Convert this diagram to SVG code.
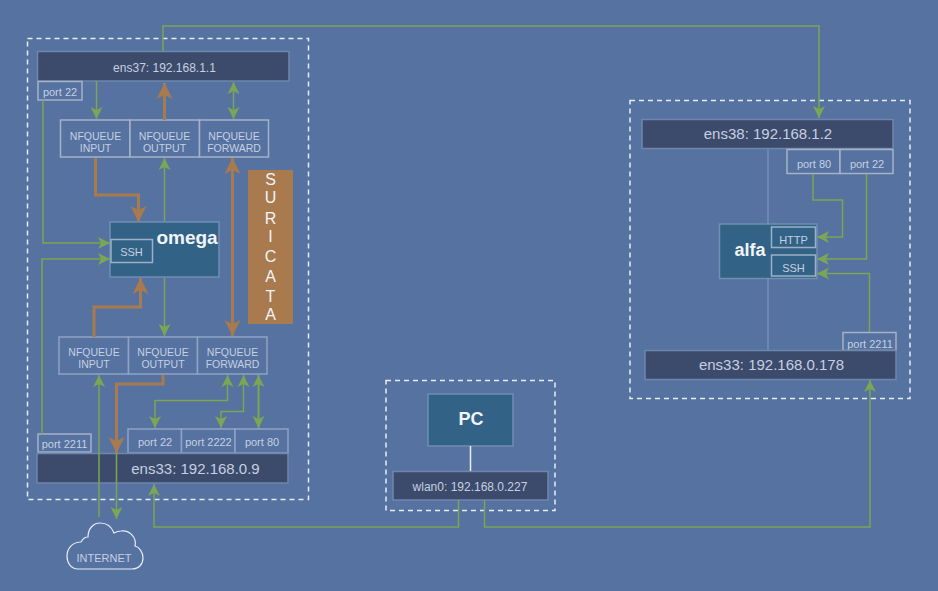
<svg xmlns="http://www.w3.org/2000/svg" width="938" height="591" viewBox="0 0 938 591">
<style>
text{font-family:"Liberation Sans",Arial,sans-serif;text-anchor:middle;fill:#c6d0e0}
.dash{fill:none;stroke:#e8edf5;stroke-width:1.5;stroke-dasharray:5 4}
.bar{fill:#3c4b6c;stroke:#6f86ab;stroke-width:1.5}
.cell{fill:#5572a1;stroke:#a6b2c6;stroke-width:1.5}
.cellb{fill:#5572a1;stroke:#8fa3c2;stroke-width:1.5}
.host{fill:#336287;stroke:#6f8fb3;stroke-width:1.5}
.inner{fill:#336287;stroke:#9fb0c6;stroke-width:1.5}
.g{fill:none;stroke:#7aa655;stroke-width:1.5}
.gt{fill:none;stroke:#7aa655;stroke-width:2}
.b{fill:none;stroke:#a87a4e;stroke-width:3}
.l{fill:none;stroke:#7f95b8;stroke-width:1.2}
.t12{font-size:12px}.t11{font-size:11px}.q{font-size:10.5px}.t15{font-size:15px}
.big{font-weight:bold;font-size:18px;fill:#f1f4f8}
.s{font-size:16px;fill:#f1f4f8}
</style>
<defs>
<marker id="ga" markerUnits="userSpaceOnUse" markerWidth="14" markerHeight="14" refX="12" refY="6" orient="auto-start-reverse" viewBox="0 0 14 12"><path d="M0 0L12 6L0 12L3 6Z" fill="#7aa655"/></marker>
<marker id="ba" markerUnits="userSpaceOnUse" markerWidth="18" markerHeight="18" refX="16" refY="8" orient="auto-start-reverse" viewBox="0 0 18 16"><path d="M0 0L16 8L0 16L4 8Z" fill="#a87a4e"/></marker>
</defs>
<rect width="938" height="591" fill="#5572a1"/>
<rect class="dash" x="27.5" y="38.5" width="281" height="461"/>
<rect class="dash" x="630" y="100.5" width="280" height="298"/>
<rect class="dash" x="386" y="380.5" width="169" height="130"/>
<g id="ens37"><rect class="bar" x="37.500" y="51.500" width="251.500" height="29.500"/><text class="t12" x="164.500" y="72">ens37: 192.168.1.1</text></g>
<g id="port22-omega-top"><rect class="cell" x="38" y="81.500" width="44" height="18.500"/><text class="t11" x="60" y="96">port 22</text></g>
<g id="nfq-top-input"><rect class="cell" x="60.500" y="120" width="69.500" height="37"/><text class="q" x="95.500" y="140">NFQUEUE</text><text class="q" x="95.500" y="152">INPUT</text></g>
<g id="nfq-top-output"><rect class="cell" x="130" y="120" width="69.500" height="37"/><text class="q" x="164.500" y="140">NFQUEUE</text><text class="q" x="164.500" y="152">OUTPUT</text></g>
<g id="nfq-top-forward"><rect class="cell" x="199.500" y="120" width="69" height="37"/><text class="q" x="234" y="140">NFQUEUE</text><text class="q" x="234" y="152">FORWARD</text></g>
<g id="suricata"><rect x="248" y="170" width="45" height="154" fill="#a87a4e"/>
<text class="s" x="270.500" y="185">S</text><text class="s" x="270.500" y="203">U</text><text class="s" x="270.500" y="224">R</text><text class="s" x="270.500" y="242">I</text><text class="s" x="270.500" y="262">C</text><text class="s" x="270.500" y="282">A</text><text class="s" x="270.500" y="302">T</text><text class="s" x="270.500" y="320">A</text></g>
<g id="omega"><rect class="host" x="110" y="222" width="109" height="55"/><text class="big" style="font-size:19px" x="187" y="244">omega</text><rect class="inner" x="111" y="239.500" width="41.500" height="23"/><text class="t11" x="131.500" y="256">SSH</text></g>
<g id="nfq-bottom-input"><rect class="cellb" x="59" y="337" width="69.500" height="37"/><text class="q" x="94" y="356">NFQUEUE</text><text class="q" x="94" y="368">INPUT</text></g>
<g id="nfq-bottom-output"><rect class="cellb" x="128.500" y="337" width="69" height="37"/><text class="q" x="163" y="356">NFQUEUE</text><text class="q" x="163" y="368">OUTPUT</text></g>
<g id="nfq-bottom-forward"><rect class="cellb" x="197.500" y="337" width="69.500" height="37"/><text class="q" x="232.500" y="356">NFQUEUE</text><text class="q" x="232.500" y="368">FORWARD</text></g>
<g id="port2211-omega"><rect class="cell" x="38" y="434" width="53" height="18"/><text class="t11" x="64.500" y="448">port 2211</text></g>
<g id="port22-omega"><rect class="cellb" x="128" y="429" width="53.500" height="24"/><text class="t11" x="155" y="446">port 22</text></g>
<g id="port2222-omega"><rect class="cellb" x="181.500" y="429" width="53.500" height="24"/><text class="t11" x="208.500" y="446">port 2222</text></g>
<g id="port80-omega"><rect class="cellb" x="235" y="429" width="53" height="24"/><text class="t11" x="262" y="446">port 80</text></g>
<g id="ens33-omega"><rect class="bar" x="37" y="453.500" width="251" height="29.500"/><text class="t15" x="195.500" y="474">ens33: 192.168.0.9</text></g>
<g id="internet"><path d="M78 569H132C139 569 143 564 143 558C143 552 139 547 135 546C137 538 130 530 121 531C118 531 116 532 114 533C111 525 105 523 100 523C93 523 88 529 88 537C84 537 82 540 81 542C72 542 67 549 67 556C67 563 71 569 78 569Z" fill="none" stroke="#e8edf5" stroke-width="1.200"/><text class="t11" x="104" y="562">INTERNET</text></g>
<g id="pc"><rect class="host" x="428" y="394" width="85" height="52"/><text class="big" x="471" y="425">PC</text></g>
<g id="wlan0"><rect class="bar" x="393" y="471.500" width="155" height="28.500"/><text class="t12" x="470" y="491">wlan0: 192.168.0.227</text></g>
<g id="ens38"><rect class="bar" x="642" y="119.500" width="251" height="29"/><text class="t15" x="768" y="139">ens38: 192.168.1.2</text></g>
<g id="port80-alfa"><rect class="cell" x="787" y="149.500" width="53" height="24"/><text class="t11" x="814" y="168">port 80</text></g>
<g id="port22-alfa"><rect class="cell" x="840" y="149.500" width="53" height="24"/><text class="t11" x="867" y="168">port 22</text></g>
<g id="alfa"><rect class="host" x="719.500" y="224" width="97.500" height="54.500"/><text class="big" x="750" y="256">alfa</text><rect class="inner" x="771.500" y="227" width="44" height="20.500"/><text class="t11" x="793.500" y="244">HTTP</text><rect class="inner" x="771.500" y="255" width="44" height="21"/><text class="t11" x="793.500" y="272">SSH</text></g>
<g id="port2211-alfa"><rect class="cell" x="843" y="332.500" width="53" height="18"/><text class="t11" x="870" y="348">port 2211</text></g>
<g id="ens33-alfa"><rect class="bar" x="645" y="350.500" width="251" height="29"/><text class="t15" x="771.500" y="370">ens33: 192.168.0.178</text></g>
<g id="connectors">
<path class="l" d="M768 149V224M768 278V350"/>
<path d="M470.500 446V471" fill="none" stroke="#e8edf5" stroke-width="1.500"/>
<path class="g" d="M163 51V26H819V118" marker-end="url(#ga)"/>
<path class="g" d="M96.500 81V119" marker-end="url(#ga)"/>
<path class="b" d="M164.500 120V83" marker-end="url(#ba)"/>
<path class="g" d="M233.500 119V82" marker-start="url(#ga)" marker-end="url(#ga)"/>
<path class="b" d="M95.500 158V195H138.500V222" marker-end="url(#ba)"/>
<path class="g" d="M164.500 221V158" marker-end="url(#ga)"/>
<path class="g" d="M43 100V243H110" marker-end="url(#ga)"/>
<path class="g" d="M42 434V259H110" marker-end="url(#ga)"/>
<path class="b" d="M232.500 336V158" marker-start="url(#ba)" marker-end="url(#ba)"/>
<path class="b" d="M94 337V307H140.500V278" marker-end="url(#ba)"/>
<path class="g" d="M164.500 278V336" marker-end="url(#ga)"/>
<path class="g" d="M99 517V375" marker-end="url(#ga)"/>
<path class="b" d="M163 375V384H116.500V453" marker-end="url(#ba)"/>
<path class="g" d="M116.500 453V519" marker-end="url(#ga)"/>
<path class="g" d="M155 428V400.500H227.500V375" marker-start="url(#ga)" marker-end="url(#ga)"/>
<path class="g" d="M221 428V411.500H243.500V375" marker-start="url(#ga)" marker-end="url(#ga)"/>
<path class="gt" d="M258.500 428V375" marker-start="url(#ga)" marker-end="url(#ga)"/>
<path class="g" d="M458.500 500V527H154V484" marker-end="url(#ga)"/>
<path class="g" d="M484.500 500V527H870V380" marker-end="url(#ga)"/>
<path class="g" d="M813 174V200H842.500V237H817" marker-end="url(#ga)"/>
<path class="g" d="M866.500 174V259H817" marker-end="url(#ga)"/>
<path class="g" d="M869.500 332V273.500H817" marker-end="url(#ga)"/>
</g>
</svg>
